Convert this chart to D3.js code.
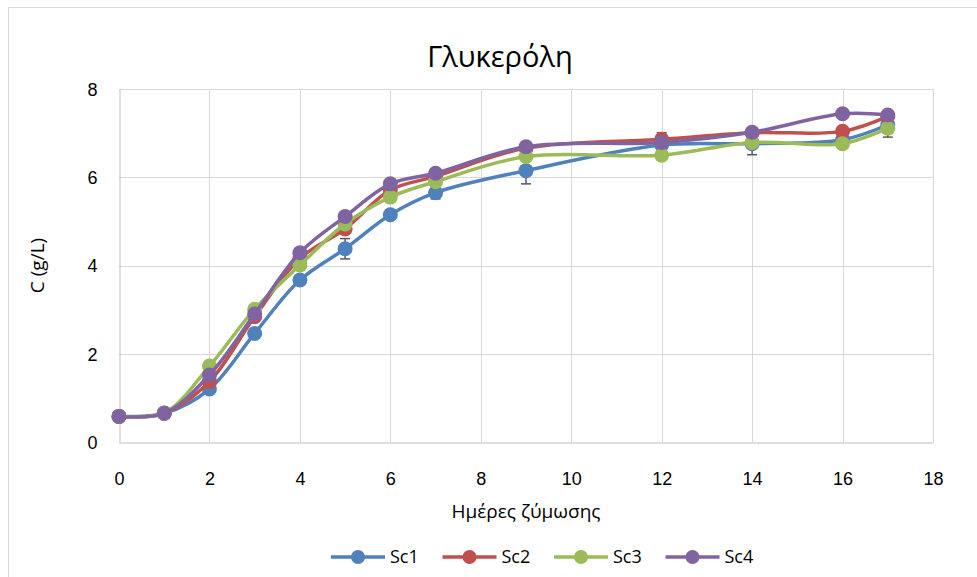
<!DOCTYPE html>
<html>
<head>
<meta charset="utf-8">
<script src="https://cdn.jsdelivr.net/npm/d3@7"></script>
<style>
  html, body { margin: 0; padding: 0; background: #fff; }
  svg { display: block; font-family: "Open Sans", "Noto Sans", sans-serif; }
</style>
</head>
<body>
<svg id="chart" width="977" height="577"></svg>
<script>
const days = [0, 1, 2, 3, 4, 5, 6, 7, 9, 12, 14, 16, 17];
const seriesNames = ["Sc1", "Sc2", "Sc3", "Sc4"];
const sc1 = [0.58, 0.65, 1.20, 2.46, 3.67, 4.38, 5.15, 5.65, 6.15, 6.73, 6.76, 6.85, 7.19];
const sc2 = [0.58, 0.65, 1.37, 2.84, 4.16, 4.83, 5.71, 6.02, 6.66, 6.86, 7.01, 7.04, 7.38];
const sc3 = [0.58, 0.66, 1.72, 3.01, 4.01, 4.94, 5.55, 5.90, 6.47, 6.50, 6.79, 6.76, 7.11];
const sc4 = [0.58, 0.65, 1.52, 2.90, 4.29, 5.11, 5.85, 6.09, 6.69, 6.79, 7.02, 7.44, 7.41];
const err1 = [0.02, 0.03, 0.05, 0.06, 0.08, 0.23, 0.10, 0.14, 0.30, 0.28, 0.25, 0.10, 0.28];
const err2 = [0.02, 0.03, 0.06, 0.06, 0.08, 0.10, 0.08, 0.08, 0.10, 0.10, 0.06, 0.08, 0.08];
const err3 = [0.02, 0.03, 0.06, 0.06, 0.08, 0.08, 0.08, 0.08, 0.08, 0.08, 0.06, 0.08, 0.10];
const err4 = [0.02, 0.03, 0.06, 0.06, 0.08, 0.08, 0.08, 0.08, 0.06, 0.08, 0.06, 0.08, 0.08];
const colors = ["#4F81BD", "#C0504D", "#9BBB59", "#8064A2"];
const xTicks = [0, 2, 4, 6, 8, 10, 12, 14, 16, 18];
const yTicks = [0, 2, 4, 6, 8];
const title = "Γλυκερόλη";
const xTitle = "Ημέρες ζύμωσης";
const yTitle = "C (g/L)";

const values = [sc1, sc2, sc3, sc4];
const errs = [err1, err2, err3, err4];
const series = seriesNames.map((name, i) => ({
  name, color: colors[i],
  points: days.map((d, j) => ({ x: d, y: values[i][j], e: errs[i][j] }))
}));

const svg = d3.select("#chart");
const margin = { left: 119, right: 977 - 933, top: 89, bottom: 577 - 442 };
const W = 977, H = 577;

// outer chart border
svg.append("rect").attr("x", 8.5).attr("y", 7.5).attr("width", W).attr("height", H)
  .attr("fill", "#fff").attr("stroke", "#D9D9D9").attr("stroke-width", 1);

const x = d3.scaleLinear().domain([0, 18]).range([margin.left, W - margin.right]);
const y = d3.scaleLinear().domain([0, 8]).range([H - margin.bottom, margin.top]);

// gridlines
const grid = svg.append("g");
grid.selectAll("line.h").data(yTicks.filter(t => t > 0)).enter().append("line")
  .attr("x1", x(0)).attr("x2", x(18))
  .attr("y1", d => Math.round(y(d)) + 0.5).attr("y2", d => Math.round(y(d)) + 0.5)
  .attr("stroke", "#D9D9D9").attr("stroke-width", 1);
grid.selectAll("line.v").data(xTicks.filter(t => t > 0)).enter().append("line")
  .attr("y1", y(0)).attr("y2", y(8))
  .attr("x1", d => Math.round(x(d)) + 0.5).attr("x2", d => Math.round(x(d)) + 0.5)
  .attr("stroke", "#D9D9D9").attr("stroke-width", 1);

// axes
const xAxis = d3.axisBottom(x).tickValues(xTicks).tickSize(0).tickPadding(42);
const yAxis = d3.axisLeft(y).tickValues(yTicks).tickSize(0).tickPadding(22);
const gx = svg.append("g").attr("transform", `translate(0,${Math.round(y(0)) + 0.5})`).call(xAxis);
const gy = svg.append("g").attr("transform", `translate(${Math.round(x(0)) + 0.5},0)`).call(yAxis);
[gx, gy].forEach(g => {
  g.select(".domain").attr("stroke", "#BFBFBF").attr("stroke-width", 1);
  g.selectAll("text").attr("font-size", 18).attr("fill", "#000");
});
gx.selectAll("text").attr("dy", "0");
gy.selectAll("text").attr("dy", "0.35em");

// titles
svg.append("text").attr("x", 500).attr("y", 67).attr("text-anchor", "middle")
  .attr("font-size", 29).attr("fill", "#000").text(title);
svg.append("text").attr("x", x(9)).attr("y", 518).attr("text-anchor", "middle")
  .attr("font-size", 19).attr("fill", "#000").text(xTitle);
svg.append("text").attr("transform", `translate(44,${y(4)}) rotate(-90)`)
  .attr("text-anchor", "middle").attr("font-size", 19).attr("fill", "#000").text(yTitle);

// series
const line = d3.line().x(d => x(d.x)).y(d => y(d.y)).curve(d3.curveCatmullRom.alpha(0.5));
series.forEach(s => {
  const g = svg.append("g");
  const eb = g.append("g").attr("stroke", "#595959").attr("stroke-width", 1.5);
  s.points.forEach(p => {
    eb.append("line").attr("x1", x(p.x)).attr("x2", x(p.x)).attr("y1", y(p.y - p.e)).attr("y2", y(p.y + p.e));
    eb.append("line").attr("x1", x(p.x) - 5).attr("x2", x(p.x) + 5).attr("y1", y(p.y - p.e)).attr("y2", y(p.y - p.e));
    eb.append("line").attr("x1", x(p.x) - 5).attr("x2", x(p.x) + 5).attr("y1", y(p.y + p.e)).attr("y2", y(p.y + p.e));
  });
  g.append("path").datum(s.points).attr("d", line).attr("fill", "none")
    .attr("stroke", s.color).attr("stroke-width", 3.5).attr("stroke-linejoin", "round");
  g.selectAll("circle").data(s.points).enter().append("circle")
    .attr("cx", d => x(d.x)).attr("cy", d => y(d.y)).attr("r", 7.5).attr("fill", s.color);
});

// legend
const legend = svg.append("g");
series.forEach((s, i) => {
  const cx = 358 + i * 111.5;
  const lg = legend.append("g");
  lg.append("line").attr("x1", cx - 27).attr("x2", cx + 27).attr("y1", 557).attr("y2", 557)
    .attr("stroke", s.color).attr("stroke-width", 3.5);
  lg.append("circle").attr("cx", cx).attr("cy", 557).attr("r", 7).attr("fill", s.color);
  lg.append("text").attr("x", cx + 32).attr("y", 557).attr("dy", "0.35em")
    .attr("font-size", 18).attr("fill", "#000").text(s.name);
});
</script>
</body>
</html>
